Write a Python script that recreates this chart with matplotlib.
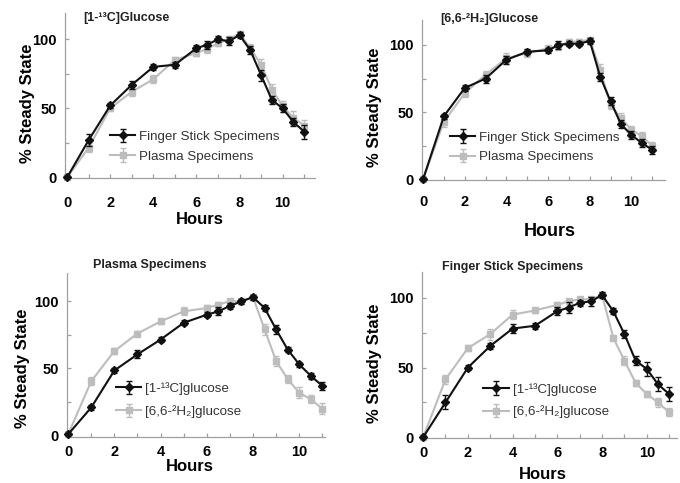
import numpy as np
import matplotlib
matplotlib.use('Agg')
import matplotlib.pyplot as plt
from matplotlib.ticker import MultipleLocator

plt.rcParams['font.family'] = ['Liberation Sans', 'DejaVu Sans']

hours = [0, 1, 2, 3, 4, 5, 6, 6.5, 7, 7.5, 8, 8.5, 9, 9.5, 10, 10.5, 11]

# [1-13C]glucose, finger stick vs plasma
c13_finger = [0, 27, 52, 67, 80, 81.5, 93.5, 96, 100, 98.5, 103, 92, 74, 56, 50, 40, 33]
c13_finger_err = [0, 4, 2, 3, 2, 2, 2, 3, 2, 3, 2, 3, 4, 3, 3, 3, 5]
c13_plasma = [0, 21.5, 50, 62, 71, 85, 90, 93, 97, 100, 104, 93.5, 81.5, 63.5, 51.5, 43, 37.5]
c13_plasma_err = [0, 3, 2, 3, 3, 2, 2, 3, 2, 2, 2, 3, 4, 4, 4, 5, 4]

# [6,6-2H2]glucose, finger stick vs plasma
h2_finger = [0, 47, 68, 75, 89, 95, 96, 100, 101, 101, 103, 76.5, 58, 41, 33, 27, 22]
h2_finger_err = [0, 2, 2, 3, 3, 2, 2, 3, 2, 2, 2, 3, 3, 3, 3, 3, 3]
h2_plasma = [0, 43, 64, 78, 90, 94, 97.5, 99, 102.5, 102.5, 104, 81.5, 55.5, 45.5, 37, 32, 25]
h2_plasma_err = [0, 4, 3, 3, 4, 3, 2, 3, 2, 2, 2, 4, 3, 4, 3, 3, 3]

# plasma specimens, both tracers
pl_c13 = [1, 21, 48.5, 60.5, 71.5, 84, 90, 92.5, 96.5, 100, 103, 95, 79, 64, 53, 44.5, 37]
pl_c13_err = [0, 2, 2, 3, 2, 2, 2, 3, 2, 2, 2, 2, 3, 2, 2, 2, 3]
pl_h2 = [1, 40.5, 63, 76, 85, 92.5, 95, 97.5, 100, 100, 103, 79, 55.5, 42, 32, 27, 20]
pl_h2_err = [0, 3, 2, 2, 2, 3, 2, 2, 2, 2, 2, 4, 4, 3, 4, 3, 4]

# finger stick specimens, both tracers
fs_c13 = [0, 25, 50, 65.5, 78, 80, 90.5, 93, 96.5, 97.5, 102, 90.5, 74, 55, 49, 38, 31]
fs_c13_err = [0, 5, 2, 2, 3, 2, 3, 4, 2, 3, 2, 2, 3, 3, 5, 5, 5]
fs_h2 = [0, 41.5, 64, 74, 88, 91, 95, 97.5, 99, 99, 102, 71.5, 55, 39, 31, 25, 18]
fs_h2_err = [0, 3, 2, 4, 3, 2, 2, 2, 2, 2, 2, 2, 3, 2, 2, 3, 3]

BLACK = '#111111'
GRAY = '#bdbdbd'
AXIS = '#a0a0a0'

fig = plt.figure(figsize=(6.8, 4.83), dpi=100)


def series(ax, y, err, color, marker, label, z):
    ax.errorbar(hours, y, yerr=err, color=color, marker=marker, markersize=4,
                lw=1.5, elinewidth=1.0, capsize=2.5, capthick=1.0,
                label=label, zorder=z, clip_on=False)


def setup(ax, xlim, ylim, title, tpos, ylab_pos, xlab_pos, xpad, xlab_size=12):
    ax.set_xlim(*xlim)
    ax.set_ylim(*ylim)
    for s in ['top', 'right']:
        ax.spines[s].set_visible(False)
    for s in ['left', 'bottom']:
        ax.spines[s].set_color(AXIS)
        ax.spines[s].set_linewidth(0.9)
    ax.xaxis.set_major_locator(MultipleLocator(2))
    ax.xaxis.set_minor_locator(MultipleLocator(1))
    ax.yaxis.set_major_locator(MultipleLocator(50))
    ax.yaxis.set_minor_locator(MultipleLocator(25))
    ax.tick_params(which='both', color=AXIS, direction='in', length=3, width=0.9)
    ax.tick_params(labelsize=10.5)
    ax.tick_params(axis='y', pad=6)
    ax.tick_params(axis='x', pad=xpad)
    for t in ax.get_xticklabels() + ax.get_yticklabels():
        t.set_fontweight('bold')
    ax.set_ylabel('% Steady State', fontsize=12, fontweight='bold')
    ax.yaxis.set_label_coords(*ylab_pos)
    ax.set_xlabel('Hours', fontsize=xlab_size, fontweight='bold')
    ax.xaxis.set_label_coords(*xlab_pos)
    ax.text(tpos[0], tpos[1], title, transform=ax.transAxes, fontsize=9,
            fontweight='bold', va='center', ha='left', color='#222222')


def legend(ax, anchor, spacing):
    h, l = ax.get_legend_handles_labels()
    ax.legend(h[::-1], l[::-1], loc='center left', bbox_to_anchor=anchor,
              frameon=False, fontsize=9.6, handlelength=1.9, handletextpad=0.3,
              labelspacing=spacing, borderaxespad=0, borderpad=0,
              labelcolor='#333333')


# top left
ax1 = fig.add_axes([0.0956, 0.6315, 0.3676, 0.3416])
series(ax1, c13_plasma, c13_plasma_err, GRAY, 's', 'Plasma Specimens', 2)
series(ax1, c13_finger, c13_finger_err, BLACK, 'D', 'Finger Stick Specimens', 3)
setup(ax1, (-0.1, 11.5), (-0.5, 119), '[1-¹³C]Glucose', (0.072, 0.97),
      (-0.12, 0.45), (0.54, -0.205), xpad=13)
legend(ax1, (0.18, 0.19), 0.55)

# top right
ax2 = fig.add_axes([0.6206, 0.6273, 0.357, 0.331])
series(ax2, h2_plasma, h2_plasma_err, GRAY, 's', 'Plasma Specimens', 2)
series(ax2, h2_finger, h2_finger_err, BLACK, 'D', 'Finger Stick Specimens', 3)
setup(ax2, (-0.05, 11.6), (-0.5, 118.5), '[6,6-²H₂]Glucose', (0.074, 1.01),
      (-0.165, 0.456), (0.527, -0.27), xpad=11, xlab_size=13)
legend(ax2, (0.115, 0.205), 0.55)

# bottom left
ax3 = fig.add_axes([0.0985, 0.0952, 0.379, 0.3395])
series(ax3, pl_h2, pl_h2_err, GRAY, 's', '[6,6-²H₂]glucose', 2)
series(ax3, pl_c13, pl_c13_err, BLACK, 'D', '[1-¹³C]glucose', 3)
setup(ax3, (-0.05, 11.1), (-1, 121), 'Plasma Specimens', (0.1, 1.05),
      (-0.143, 0.42), (0.477, -0.135), xpad=6)
legend(ax3, (0.19, 0.225), 0.75)

# bottom right
ax4 = fig.add_axes([0.6206, 0.0932, 0.375, 0.3437])
series(ax4, fs_h2, fs_h2_err, GRAY, 's', '[6,6-²H₂]glucose', 2)
series(ax4, fs_c13, fs_c13_err, BLACK, 'D', '[1-¹³C]glucose', 3)
setup(ax4, (-0.05, 11.35), (-0.5, 118.6), 'Finger Stick Specimens', (0.08, 1.03),
      (-0.157, 0.45), (0.475, -0.175), xpad=6)
legend(ax4, (0.24, 0.225), 0.75)

fig.savefig('out.png', dpi=100)
